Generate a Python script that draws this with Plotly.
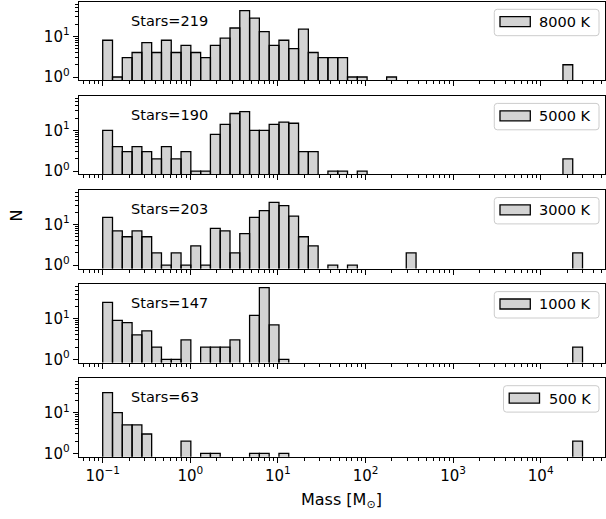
import numpy as np
import plotly.graph_objects as go

W, H = 606, 519

# ---- data -------------------------------------------------------------
temps = ["8000 K", "5000 K", "3000 K", "1000 K", "500 K"]
stars = [219, 190, 203, 147, 63]

# stars per log-spaced mass bin (49 bins from 0.1 to 3e4 Msun)
counts_8000 = [8, 1, 3, 4, 7, 4, 8, 4, 6, 4,
               3, 6, 9, 16, 43, 28, 13, 6, 8, 5,
               15, 4, 3, 3, 3, 1, 1, 0, 0, 1,
               0, 0, 0, 0, 0, 0, 0, 0, 0, 0,
               0, 0, 0, 0, 0, 0, 0, 2, 0]
counts_5000 = [10, 4, 3, 4, 3, 2, 4, 2, 3, 1,
               1, 8, 14, 26, 29, 10, 10, 14, 16, 15,
               3, 3, 0, 1, 1, 0, 1, 0, 0, 0,
               0, 0, 0, 0, 0, 0, 0, 0, 0, 0,
               0, 0, 0, 0, 0, 0, 0, 2, 0]
counts_3000 = [15, 7, 5, 7, 5, 2, 1, 2, 1, 3,
               1, 8, 7, 2, 6, 15, 22, 35, 29, 16,
               5, 3, 0, 1, 0, 1, 0, 0, 0, 0,
               0, 2, 0, 0, 0, 0, 0, 0, 0, 0,
               0, 0, 0, 0, 0, 0, 0, 0, 2]
counts_1000 = [25, 9, 8, 4, 5, 2, 1, 1, 3, 0,
               2, 2, 2, 3, 0, 12, 58, 7, 1, 0,
               0, 0, 0, 0, 0, 0, 0, 0, 0, 0,
               0, 0, 0, 0, 0, 0, 0, 0, 0, 0,
               0, 0, 0, 0, 0, 0, 0, 0, 2]
counts_500 = [31, 10, 5, 5, 3, 0, 0, 0, 2, 0,
              1, 1, 0, 0, 0, 1, 1, 0, 1, 0,
              0, 0, 0, 0, 0, 0, 0, 0, 0, 0,
              0, 0, 0, 0, 0, 0, 0, 0, 0, 0,
              0, 0, 0, 0, 0, 0, 0, 0, 2]
all_counts = [counts_8000, counts_5000, counts_3000, counts_1000, counts_500]

mass_min, mass_max, n_bins = 0.1, 3.0e4, 49
edges = np.logspace(np.log10(mass_min), np.log10(mass_max), n_bins + 1)

x_ticks = [0.1, 1, 10, 100, 1000, 10000]
x_ticktext = ["10<sup>\u22121</sup>", "10<sup>0</sup>", "10<sup>1</sup>",
              "10<sup>2</sup>", "10<sup>3</sup>", "10<sup>4</sup>"]
y_ticks = [1, 10]
y_ticktext = ["10<sup>0</sup>", "10<sup>1</sup>"]

# ---- layout geometry (pixels) ------------------------------------------
PX_L, PX_R = 78.7, 604.5
PANEL_TOP0, PANEL_STEP, PANEL_H = 2.0, 94.1, 78.3
X_RANGE = [-1.274, 4.728]
Y_RANGE = [-0.081, 1.843]
FONT = "DejaVu Sans"
BAR_FILL = "#d3d3d3"

def fx(p):
    return p / W

def fy(p):
    return 1 - p / H

x_minor = [k * 10.0 ** n for n in range(-2, 5) for k in range(2, 10)]
y_minor = [k * 10.0 ** n for n in range(0, 2) for k in range(2, 10)]

fig = go.Figure()
layout = dict(
    width=W, height=H, margin=dict(l=0, r=0, t=0, b=0),
    paper_bgcolor="white", plot_bgcolor="white", showlegend=False,
    font=dict(family=FONT, size=14, color="black"),
)
shapes, annotations = [], []

for i, (label, counts, n_stars) in enumerate(zip(temps, all_counts, stars)):
    top = PANEL_TOP0 + i * PANEL_STEP
    bot = top + PANEL_H
    suffix = "" if i == 0 else str(i + 1)

    # histogram bars as closed outlines on the log axes
    xs, ys = [], []
    for c, e0, e1 in zip(counts, edges[:-1], edges[1:]):
        if c > 0:
            xs += [e0, e0, e1, e1, e0, None]
            ys += [0.5, c, c, 0.5, 0.5, None]
    fig.add_trace(go.Scatter(
        x=xs, y=ys, mode="lines", fill="toself", fillcolor=BAR_FILL,
        line=dict(color="black", width=1.3), hoverinfo="skip",
        xaxis="x" + suffix, yaxis="y" + suffix,
    ))

    last = i == len(temps) - 1
    layout["xaxis" + suffix] = dict(
        type="log", range=X_RANGE, domain=[fx(PX_L), fx(PX_R)],
        anchor="y" + suffix, showgrid=False, zeroline=False,
        showline=True, linecolor="black", linewidth=1.1, mirror=True,
        ticks="outside", ticklen=5, tickwidth=1.1, tickcolor="black",
        tickmode="array", tickvals=x_ticks, ticktext=x_ticktext,
        showticklabels=last, tickfont=dict(family=FONT, size=15),
        minor=dict(tickmode="array", tickvals=x_minor, ticks="outside",
                   ticklen=3, tickwidth=0.9, tickcolor="black", showgrid=False),
        automargin=False,
    )
    layout["yaxis" + suffix] = dict(
        type="log", range=Y_RANGE, domain=[fy(bot), fy(top)],
        anchor="x" + suffix, showgrid=False, zeroline=False,
        showline=True, linecolor="black", linewidth=1.1, mirror=True,
        ticks="outside", ticklen=5, tickwidth=1.1, tickcolor="black",
        tickmode="array", tickvals=y_ticks, ticktext=y_ticktext,
        tickfont=dict(family=FONT, size=15),
        minor=dict(tickmode="array", tickvals=y_minor, ticks="outside",
                   ticklen=3, tickwidth=0.9, tickcolor="black", showgrid=False),
        automargin=False,
    )

    # star count label
    annotations.append(dict(
        text=f"Stars={n_stars}", xref="paper", yref="paper",
        x=fx(129.0), y=fy(top + 18.5), xanchor="left", yanchor="middle",
        showarrow=False, font=dict(family=FONT, size=14.5, color="black"),
    ))

    # legend box: frame, colour patch, label
    text_w = sum(0.656 if ch == "K" else 0.318 if ch == " " else 0.636
                 for ch in label) * 14.5
    text_r = 593.0
    box_r = 599.0
    box_l = text_r - text_w - 47.7
    b_t, b_b = top + 7.3, top + 33.7
    r = 3.0
    path = (f"M {fx(box_l + r)},{fy(b_t)} L {fx(box_r - r)},{fy(b_t)} "
            f"Q {fx(box_r)},{fy(b_t)} {fx(box_r)},{fy(b_t + r)} "
            f"L {fx(box_r)},{fy(b_b - r)} "
            f"Q {fx(box_r)},{fy(b_b)} {fx(box_r - r)},{fy(b_b)} "
            f"L {fx(box_l + r)},{fy(b_b)} "
            f"Q {fx(box_l)},{fy(b_b)} {fx(box_l)},{fy(b_b - r)} "
            f"L {fx(box_l)},{fy(b_t + r)} "
            f"Q {fx(box_l)},{fy(b_t)} {fx(box_l + r)},{fy(b_t)} Z")
    shapes.append(dict(type="path", path=path, xref="paper", yref="paper",
                       fillcolor="rgba(255,255,255,0.8)",
                       line=dict(color="#cccccc", width=1), layer="above"))
    p_l = box_l + 5.7
    shapes.append(dict(type="rect", xref="paper", yref="paper",
                       x0=fx(p_l), x1=fx(p_l + 30.3),
                       y0=fy(top + 24.7), y1=fy(top + 14.7),
                       fillcolor=BAR_FILL, line=dict(color="black", width=1.3),
                       layer="above"))
    annotations.append(dict(
        text=label, xref="paper", yref="paper",
        x=fx(text_r), y=fy(top + 20.2), xanchor="right", yanchor="middle",
        showarrow=False, font=dict(family=FONT, size=14.5, color="black"),
    ))

# shared axis titles
annotations.append(dict(
    text="N", xref="paper", yref="paper", x=fx(15.5), y=fy(216.0),
    xanchor="center", yanchor="middle", textangle=-90, showarrow=False,
    font=dict(family=FONT, size=16, color="black"),
))
annotations.append(dict(
    text="Mass [M<sub>\u2299</sub>]", xref="paper", yref="paper",
    x=fx(341.0), y=fy(500.0), xanchor="center", yanchor="middle",
    showarrow=False, font=dict(family=FONT, size=16, color="black"),
))

layout["shapes"] = shapes
layout["annotations"] = annotations
fig.update_layout(**layout)
fig.write_html("out.html")
